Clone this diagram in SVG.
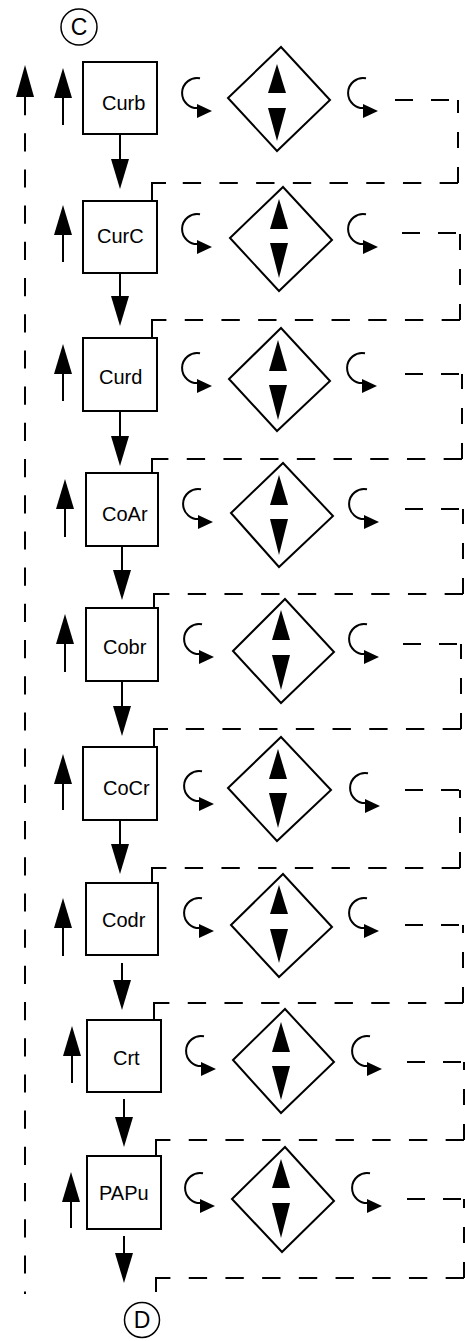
<svg xmlns="http://www.w3.org/2000/svg" width="465" height="1341" viewBox="0 0 465 1341">
<style>
.box{fill:#fff;stroke:#000;stroke-width:2}
.dia{fill:#fff;stroke:#000;stroke-width:2}
.ln{fill:none;stroke:#000;stroke-width:2}
.hd{fill:#000;stroke:none}
.lbl{font-family:"Liberation Sans",Arial,sans-serif;font-size:20px;fill:#000}
.cl{font-family:"Liberation Sans",Arial,sans-serif;font-size:23px;fill:#000;text-anchor:middle}
.dh{fill:none;stroke:#000;stroke-width:2;stroke-dasharray:18 18}
.dv{fill:none;stroke:#000;stroke-width:2;stroke-dasharray:16 19}
.db{fill:none;stroke:#000;stroke-width:2;stroke-dasharray:18.35 18.35}
.dl{fill:none;stroke:#000;stroke-width:2;stroke-dasharray:18.2 18}
.circ{fill:#fff;stroke:#000;stroke-width:1.5}
</style>
<defs>
<g id="curl"><path class="ln" d="M18 0.3 A15 15 0 1 0 17.6 29.8"/><polygon class="hd" points="15,26 30,33 15,40"/></g>
<g id="upA"><polygon class="hd" points="-9,30 9,30 0,0"/></g>
<g id="dnA"><polygon class="hd" points="-9,0 9,0 0,30"/></g>
</defs>
<rect width="465" height="1341" fill="#fff"/>

<g id="connectors">
<path class="dl" d="M25 97 V1294"/>
<polygon class="hd" points="16,97 34,97 25,65"/>
<!-- row 1 -->
<path class="dh" d="M395 100 H458"/><path class="dv" d="M458 183 V100"/><path class="db" d="M458 183 H166"/><path class="ln" d="M166 183 H152 V201"/>
<!-- row 2 -->
<path class="dh" d="M402 233 H460"/><path class="dv" d="M460 320 V233"/><path class="db" d="M460 320 H166"/><path class="ln" d="M166 320 H152 V338"/>
<!-- row 3 -->
<path class="dh" d="M405 374 H462"/><path class="dv" d="M462 459 V374"/><path class="db" d="M462 459 H166"/><path class="ln" d="M166 459 H152 V473"/>
<!-- row 4 -->
<path class="dh" d="M405 509 H463"/><path class="dv" d="M463 594 V509"/><path class="db" d="M463 594 H168"/><path class="ln" d="M168 594 H154 V608"/>
<!-- row 5 -->
<path class="dh" d="M403 644 H461"/><path class="dv" d="M461 729 V644"/><path class="db" d="M461 729 H168"/><path class="ln" d="M168 729 H154 V747"/>
<!-- row 6 -->
<path class="dh" d="M405 790 H460"/><path class="dv" d="M460 868 V790"/><path class="db" d="M460 868 H166"/><path class="ln" d="M166 868 H152 V883"/>
<!-- row 7 -->
<path class="dh" d="M405 925 H463"/><path class="dv" d="M463 1003 V925"/><path class="db" d="M463 1003 H168"/><path class="ln" d="M168 1003 H154 V1019"/>
<!-- row 8 -->
<path class="dh" d="M407 1062 H464"/><path class="dv" d="M464 1140 V1062"/><path class="db" d="M464 1140 H170"/><path class="ln" d="M170 1140 H156 V1156"/>
<!-- row 9 -->
<path class="dh" d="M407 1199 H464"/><path class="dv" d="M464 1278 V1199"/><path class="db" d="M464 1278 H170"/><path class="ln" d="M170 1278 H156 V1292"/>
</g>

<g id="nodeC"><circle class="circ" cx="79" cy="27" r="18"/><text class="cl" x="79" y="35">C</text></g>
<g id="nodeD"><circle class="circ" cx="142" cy="1320" r="17.5"/><text class="cl" x="142" y="1328">D</text></g>

<g id="row1">
<rect class="box" x="83" y="62" width="74" height="72"/><text class="lbl" x="102" y="110">Curb</text>
<path class="ln" d="M63 98 V125"/><use href="#upA" x="63" y="68"/>
<path class="ln" d="M120 134 V159"/><use href="#dnA" x="120" y="159"/>
<polygon class="dia" points="228,98 281,47 330,100 277,151"/>
<polygon class="hd" points="268,93 286,93 277,64"/><polygon class="hd" points="268,108 286,108 277,141"/>
<use href="#curl" x="182" y="78"/><use href="#curl" x="348" y="78"/>
</g>

<g id="row2">
<rect class="box" x="83" y="201" width="74" height="72"/><text class="lbl" x="97" y="243">CurC</text>
<path class="ln" d="M63 235 V262"/><use href="#upA" x="63" y="205"/>
<path class="ln" d="M120 273 V296"/><use href="#dnA" x="120" y="296"/>
<polygon class="dia" points="230,238 283,187 332,240 279,291"/>
<polygon class="hd" points="270,229 288,229 279,199"/><polygon class="hd" points="270,243 288,243 279,278"/>
<use href="#curl" x="182" y="214"/><use href="#curl" x="348" y="214"/>
</g>

<g id="row3">
<rect class="box" x="83" y="338" width="74" height="73"/><text class="lbl" x="99" y="384">Curd</text>
<path class="ln" d="M63 373 V401"/><use href="#upA" x="63" y="344"/>
<path class="ln" d="M120 411 V436"/><use href="#dnA" x="120" y="436"/>
<polygon class="dia" points="229,379 281,328 330,381 277,431"/>
<polygon class="hd" points="269,371 287,371 278,340"/><polygon class="hd" points="269,385 287,385 278,420"/>
<use href="#curl" x="182" y="353"/><use href="#curl" x="347" y="353"/>
</g>

<g id="row4">
<rect class="box" x="86" y="473" width="72" height="73"/><text class="lbl" x="102" y="521">CoAr</text>
<path class="ln" d="M65 508 V537"/><use href="#upA" x="65" y="479"/>
<path class="ln" d="M122 546 V570"/><use href="#dnA" x="122" y="570"/>
<polygon class="dia" points="231,513 283,463 333,516 279,567"/>
<polygon class="hd" points="270,505 288,505 279,475"/><polygon class="hd" points="270,519 288,519 279,555"/>
<use href="#curl" x="183" y="489"/><use href="#curl" x="349" y="489"/>
</g>

<g id="row5">
<rect class="box" x="86" y="608" width="72" height="73"/><text class="lbl" x="103" y="654">Cobr</text>
<path class="ln" d="M65 644 V672"/><use href="#upA" x="65" y="614"/>
<path class="ln" d="M122 681 V706"/><use href="#dnA" x="122" y="706"/>
<polygon class="dia" points="233,651 285,599 334,652 281,703"/>
<polygon class="hd" points="272,640 290,640 281,610"/><polygon class="hd" points="272,655 290,655 281,690"/>
<use href="#curl" x="184" y="624"/><use href="#curl" x="349" y="624"/>
</g>

<g id="row6">
<rect class="box" x="83" y="747" width="74" height="73"/><text class="lbl" x="103" y="795">CoCr</text>
<path class="ln" d="M63 784 V810"/><use href="#upA" x="63" y="754"/>
<path class="ln" d="M120 820 V844"/><use href="#dnA" x="120" y="844"/>
<polygon class="dia" points="228,788 281,737 331,790 277,841"/>
<polygon class="hd" points="269,779 287,779 278,749"/><polygon class="hd" points="269,793 287,793 278,828"/>
<use href="#curl" x="184" y="771"/><use href="#curl" x="350" y="773"/>
</g>

<g id="row7">
<rect class="box" x="86" y="883" width="72" height="72"/><text class="lbl" x="102" y="927">Codr</text>
<path class="ln" d="M63 928 V956"/><use href="#upA" x="63" y="898"/>
<path class="ln" d="M122 963 V980"/><use href="#dnA" x="122" y="980"/>
<polygon class="dia" points="231,925 283,874 332,927 279,977"/>
<polygon class="hd" points="270,914 288,914 279,885"/><polygon class="hd" points="270,929 288,929 279,963"/>
<use href="#curl" x="184" y="898"/><use href="#curl" x="349" y="898"/>
</g>

<g id="row8">
<rect class="box" x="87" y="1020" width="74" height="72"/><text class="lbl" x="113" y="1065">Crt</text>
<path class="ln" d="M72 1055 V1083"/><use href="#upA" x="72" y="1026"/>
<path class="ln" d="M124 1099 V1117"/><use href="#dnA" x="124" y="1117"/>
<polygon class="dia" points="233,1060 285,1009 334,1062 281,1113"/>
<polygon class="hd" points="272,1052 290,1052 281,1022"/><polygon class="hd" points="272,1066 290,1066 281,1100"/>
<use href="#curl" x="186" y="1036"/><use href="#curl" x="352" y="1036"/>
</g>

<g id="row9">
<rect class="box" x="87" y="1156" width="74" height="73"/><text class="lbl" x="99" y="1200">PAPu</text>
<path class="ln" d="M71 1202 V1228"/><use href="#upA" x="71" y="1172"/>
<path class="ln" d="M124 1236 V1253"/><use href="#dnA" x="124" y="1253"/>
<polygon class="dia" points="232,1199 285,1147 334,1201 282,1252"/>
<polygon class="hd" points="272,1188 290,1188 281,1159"/><polygon class="hd" points="272,1203 290,1203 281,1238"/>
<use href="#curl" x="185" y="1173"/><use href="#curl" x="352" y="1173"/>
</g>
</svg>
